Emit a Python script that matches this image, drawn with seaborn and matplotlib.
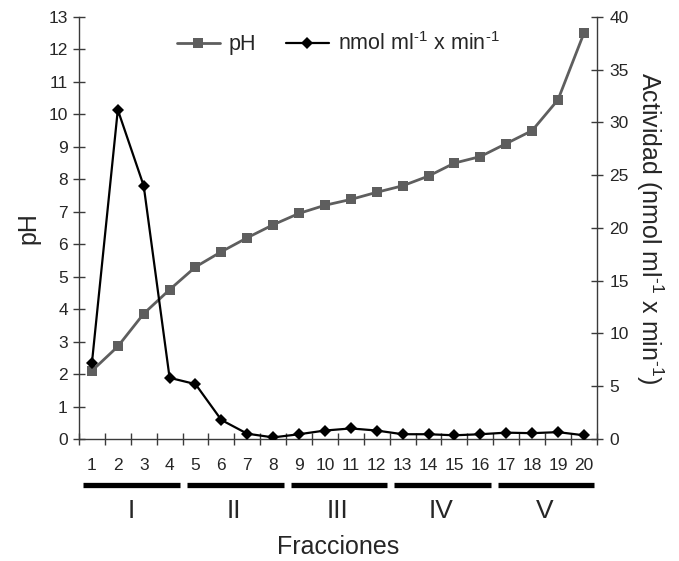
import numpy as np
import pandas as pd
import matplotlib
matplotlib.use("Agg")
import matplotlib.pyplot as plt
import matplotlib.transforms as mtransforms
from matplotlib.ticker import MultipleLocator, FixedLocator
import seaborn as sns

# --- data ---
fracciones = list(range(1, 21))
ph = [2.1, 2.85, 3.86, 4.6, 5.3, 5.77, 6.2, 6.6, 6.95, 7.2,
      7.38, 7.6, 7.8, 8.1, 8.5, 8.7, 9.1, 9.5, 10.45, 12.5]
actividad = [7.2, 31.2, 24.0, 5.8, 5.2, 1.8, 0.5, 0.15, 0.45, 0.8,
             1.0, 0.8, 0.45, 0.45, 0.35, 0.45, 0.6, 0.55, 0.65, 0.35]
grupos = ["I", "II", "III", "IV", "V"]
tam_grupo = 4

df = pd.DataFrame({"fraccion": fracciones, "pH": ph, "actividad": actividad})

sns.set_style("white")
plt.rcParams["font.family"] = ["Liberation Sans", "DejaVu Sans"]
plt.rcParams["mathtext.fontset"] = "custom"
plt.rcParams["mathtext.rm"] = "Liberation Sans"
plt.rcParams["mathtext.it"] = "Liberation Sans"

axis_col = "#3a3a3a"
ph_col = "#5e5e5e"
unidad = r"nmol ml$^{\text{-}1}$ x min$^{\text{-}1}$"

fig = plt.figure(figsize=(6.79, 5.61), dpi=100)
ax = fig.add_axes([0.1163, 0.2175, 0.7627, 0.7522])
ax2 = ax.twinx()

sns.lineplot(data=df, x="fraccion", y="pH", ax=ax, color=ph_col, marker="s",
             markersize=7.5, markeredgewidth=0, linewidth=2, label="pH", legend=False)
sns.lineplot(data=df, x="fraccion", y="actividad", ax=ax2, color="black", marker="D",
             markersize=6, markeredgewidth=0, linewidth=1.6,
             label=unidad, legend=False)

ax.set_xlim(0.5, 20.5)
ax.set_ylim(0, 13)
ax2.set_ylim(0, 40)

ax.yaxis.set_major_locator(MultipleLocator(1))
ax2.yaxis.set_major_locator(MultipleLocator(5))
ax.xaxis.set_major_locator(FixedLocator(fracciones))
ax.xaxis.set_minor_locator(FixedLocator(np.arange(0.5, 21, 1)))

for a in (ax, ax2):
    a.spines["top"].set_visible(False)
    for s in ("left", "right", "bottom"):
        a.spines[s].set_color(axis_col)
        a.spines[s].set_linewidth(1.0)
ax.spines["right"].set_visible(False)
ax2.spines["left"].set_visible(False)
ax2.spines["bottom"].set_visible(False)

ax.tick_params(axis="y", which="major", direction="inout", length=8, width=1,
               color=axis_col, labelsize=12.5, pad=4, left=True)
ax2.tick_params(axis="y", which="major", direction="inout", length=8, width=1,
                color=axis_col, labelsize=12.5, pad=5, right=True)
ax.tick_params(axis="x", which="major", length=0, labelsize=12.5, pad=14)
ax.tick_params(axis="x", which="minor", direction="inout", length=8, width=1,
               color=axis_col, bottom=True)

ax.set_xlabel("Fracciones", fontsize=18, labelpad=44)
ax.set_ylabel("pH", fontsize=18, labelpad=6)
ax2.set_ylabel("Actividad (" + unidad + ")", fontsize=18,
               rotation=270, labelpad=26)

# group bars and roman numerals under the x axis
trans = mtransforms.blended_transform_factory(ax.transData, ax.transAxes)
for i, g in enumerate(grupos):
    x0 = i * tam_grupo + 0.67
    x1 = i * tam_grupo + tam_grupo + 0.4
    ax.plot([x0, x1], [-0.109, -0.109], color="black", linewidth=3.8,
            transform=trans, clip_on=False, solid_capstyle="butt")
    ax.text(i * tam_grupo + 2.5, -0.17, g, transform=trans, ha="center",
            va="center", fontsize=19)

h1, l1 = ax.get_legend_handles_labels()
h2, l2 = ax2.get_legend_handles_labels()
ax2.legend(h1 + h2, l1 + l2, loc="upper center", bbox_to_anchor=(0.5, 1.01),
           ncol=2, frameon=False, fontsize=15.5, handlelength=2.0,
           columnspacing=1.4, handletextpad=0.4)

fig.savefig("out.png", dpi=100)
